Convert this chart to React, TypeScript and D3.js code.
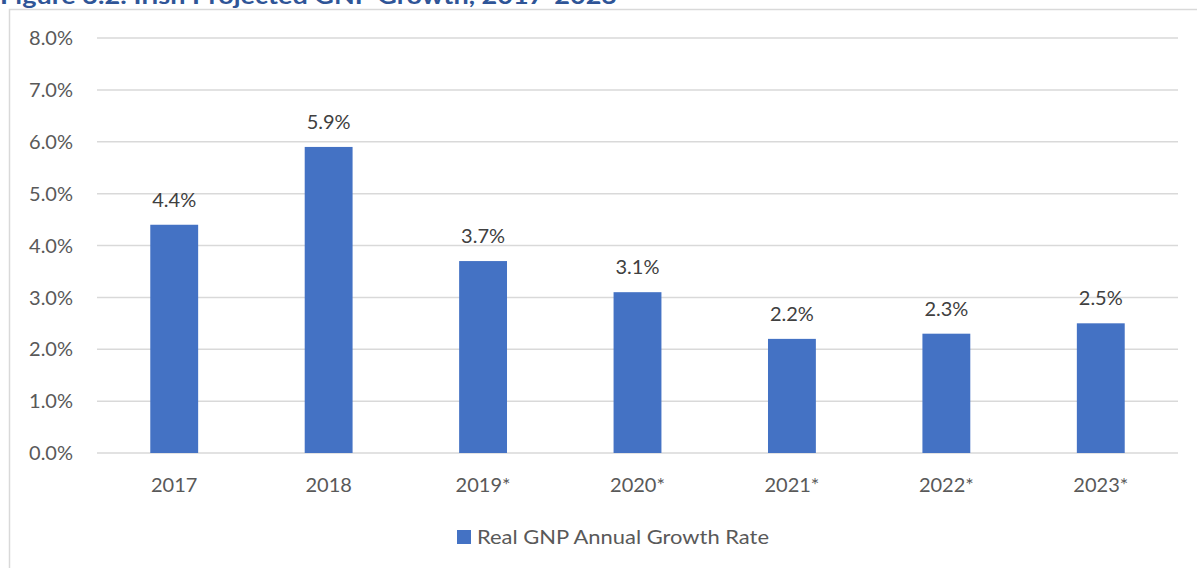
import React from "react";
import * as d3 from "d3";

const categories = ["2017", "2018", "2019*", "2020*", "2021*", "2022*", "2023*"];
const growthValues = [4.4, 5.9, 3.7, 3.1, 2.2, 2.3, 2.5];
const yTicks = [0, 1, 2, 3, 4, 5, 6, 7, 8];
const seriesName = "Real GNP Annual Growth Rate";
const titleText = "Figure 3.2: Irish Projected GNP Growth, 2017-2023";

const W = 1197;
const H = 568;
const FONT = "Lato, 'Open Sans', sans-serif";

export default function App() {
  const x = d3
    .scaleBand<string>()
    .domain(categories)
    .range([97, 1178])
    .paddingInner(0.69)
    .paddingOuter(0.345);
  const y = d3.scaleLinear().domain([0, 8]).range([453, 38]);
  const fmt = (v: number) => d3.format(".1f")(v) + "%";

  return (
    <svg
      width={W}
      height={H}
      style={{ position: "absolute", left: 0, top: 0, display: "block", background: "#fff" }}
      fontFamily={FONT}
    >
      <rect x={9.5} y={9.5} width={1300} height={700} fill="#fff" stroke="#d9d9d9" strokeWidth={1.5} />
      <text x={0} y={4} fontSize={23} fontWeight="bold" fill="#2F5597" textLength={617} lengthAdjust="spacingAndGlyphs">
        {titleText}
      </text>
      {yTicks.map((t) => (
        <g key={t}>
          <line x1={97} x2={1178} y1={y(t)} y2={y(t)} stroke="#d9d9d9" strokeWidth={1.5} />
          <text x={73} y={y(t)} dy="0.36em" textAnchor="end" fontSize={20} fill="#595959">
            {fmt(t)}
          </text>
        </g>
      ))}
      {categories.map((c, i) => {
        const bx = x(c)!;
        const bw = x.bandwidth();
        const v = growthValues[i];
        return (
          <g key={c}>
            <rect x={bx} y={y(v)} width={bw} height={y(0) - y(v)} fill="#4472C4" />
            <text x={bx + bw / 2} y={y(v) - 18} textAnchor="middle" fontSize={20} fill="#404040">
              {fmt(v)}
            </text>
            <text x={bx + bw / 2} y={492} textAnchor="middle" fontSize={20} fill="#595959">
              {c}
            </text>
          </g>
        );
      })}
      <rect x={457} y={530} width={14} height={14} fill="#4472C4" />
      <text x={477} y={544} fontSize={20} fill="#595959" textLength={292} lengthAdjust="spacingAndGlyphs">
        {seriesName}
      </text>
    </svg>
  );
}
